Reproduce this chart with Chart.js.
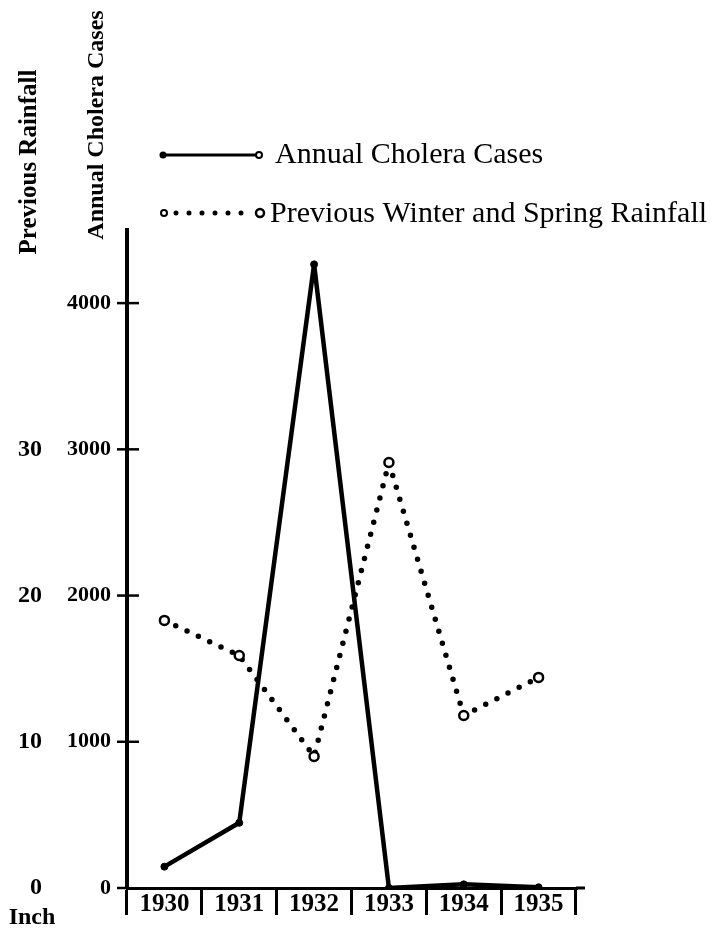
<!DOCTYPE html>
<html>
<head>
<meta charset="utf-8">
<script src="https://cdn.jsdelivr.net/npm/chart.js@4"></script>
<style>
  html, body { margin: 0; padding: 0; background: #fff; }
  #wrap { width: 713px; height: 932px; }
</style>
</head>
<body>
<div id="wrap"><canvas id="c" width="713" height="932"></canvas></div>
<script>
// ---- data ----
const years = ['1930', '1931', '1932', '1933', '1934', '1935'];
const choleraCases = [146, 446, 4265, 0, 25, 5];
const rainfallInches = [18.3, 15.9, 9.0, 29.1, 11.8, 14.4];
const casesTicks = [0, 1000, 2000, 3000, 4000];
const rainfallTicks = [0, 10, 20, 30];
const casesTitle = 'Annual Cholera Cases';
const rainfallTitle = 'Previous Rainfall';
const unitLabel = 'Inch';
const choleraLabel = 'Annual Cholera Cases';
const rainfallLabel = 'Previous Winter and Spring Rainfall';

const INK = '#000';
const SERIF = '"Liberation Serif", "DejaVu Serif", serif';

const decor = {
  id: 'decor',
  afterDraw(chart) {
    const ctx = chart.ctx;
    const y = chart.scales.y;
    const area = chart.chartArea;
    ctx.save();
    ctx.strokeStyle = INK;
    ctx.fillStyle = INK;
    // tick marks crossing the cases axis
    ctx.lineWidth = 2.5;
    y.ticks.forEach(t => {
      const py = y.getPixelForValue(t.value);
      ctx.beginPath();
      ctx.moveTo(area.left - 10, py);
      ctx.lineTo(area.left + (t.value === 0 ? 0 : 12), py);
      ctx.stroke();
    });
    // extend x axis a little past the last box
    ctx.lineWidth = 3;
    ctx.beginPath();
    ctx.moveTo(area.right, area.bottom);
    ctx.lineTo(area.right + 9, area.bottom);
    ctx.stroke();

    // rotated axis titles
    ctx.font = 'bold 25px ' + SERIF;
    ctx.textAlign = 'center';
    ctx.textBaseline = 'middle';
    ctx.save();
    ctx.translate(30, 162);
    ctx.rotate(-Math.PI / 2);
    ctx.fillText(rainfallTitle, 0, 0);
    ctx.restore();
    ctx.font = 'bold 24px ' + SERIF;
    ctx.save();
    ctx.translate(97, 125);
    ctx.rotate(-Math.PI / 2);
    ctx.fillText(casesTitle, 0, 0);
    ctx.restore();

    // unit label
    ctx.font = 'bold 24px ' + SERIF;
    ctx.fillText(unitLabel, 32, 918);

    // legend
    const ds = chart.data.datasets;
    // item 1: solid line
    ctx.setLineDash([]);
    ctx.lineWidth = 3;
    ctx.beginPath();
    ctx.moveTo(163, 155);
    ctx.lineTo(258, 155);
    ctx.stroke();
    ctx.beginPath();
    ctx.arc(163, 155, 3.5, 0, Math.PI * 2);
    ctx.fill();
    ctx.fillStyle = '#fff';
    ctx.lineWidth = 2;
    ctx.beginPath();
    ctx.arc(259, 155, 3, 0, Math.PI * 2);
    ctx.fill();
    ctx.stroke();
    ctx.fillStyle = INK;
    // item 2: dotted line
    ctx.lineCap = 'round';
    ctx.lineWidth = 5;
    ctx.setLineDash([0, 13]);
    ctx.beginPath();
    ctx.moveTo(176, 213);
    ctx.lineTo(250, 213);
    ctx.stroke();
    ctx.setLineDash([]);
    ctx.lineWidth = 2;
    ctx.fillStyle = '#fff';
    ctx.beginPath();
    ctx.arc(164, 213, 3, 0, Math.PI * 2);
    ctx.fill();
    ctx.stroke();
    ctx.lineWidth = 2.5;
    ctx.beginPath();
    ctx.arc(260, 213, 4, 0, Math.PI * 2);
    ctx.fill();
    ctx.stroke();
    ctx.fillStyle = INK;
    ctx.font = '30px ' + SERIF;
    ctx.textAlign = 'left';
    ctx.fillText(ds[0].label, 275, 155);
    ctx.fillText(ds[1].label, 270, 214);
    ctx.restore();
  }
};

new Chart(document.getElementById('c'), {
  type: 'line',
  data: {
    labels: years,
    datasets: [
      {
        label: choleraLabel,
        data: choleraCases,
        yAxisID: 'y',
        borderColor: INK,
        backgroundColor: INK,
        borderWidth: 4.5,
        borderJoinStyle: 'round',
        pointRadius: 3.5,
        pointBackgroundColor: INK,
        pointBorderColor: INK,
        pointBorderWidth: 1,
        tension: 0,
        fill: false
      },
      {
        label: rainfallLabel,
        data: rainfallInches,
        yAxisID: 'y2',
        borderColor: INK,
        backgroundColor: '#fff',
        borderWidth: 5.5,
        borderDash: [0, 12.5],
        borderCapStyle: 'round',
        pointRadius: 4.5,
        pointBackgroundColor: '#fff',
        pointBorderColor: INK,
        pointBorderWidth: 2.5,
        tension: 0,
        fill: false
      }
    ]
  },
  options: {
    responsive: false,
    devicePixelRatio: 1,
    animation: false,
    events: [],
    layout: { padding: { top: 230, right: 137, left: 0, bottom: 0 } },
    plugins: { legend: { display: false }, tooltip: { enabled: false }, title: { display: false } },
    scales: {
      x: {
        type: 'category',
        position: 'bottom',
        offset: true,
        afterFit: s => { s.height = 44; },
        grid: { offset: true, drawOnChartArea: false, drawTicks: true, tickLength: 27, lineWidth: 3, color: INK },
        border: { display: true, width: 3, color: INK },
        ticks: { padding: -25, color: INK, maxRotation: 0, autoSkip: false, font: { family: SERIF, size: 25, weight: 'bold' } }
      },
      y: {
        position: 'left',
        weight: 0,
        min: 0,
        max: 4500,
        afterFit: s => { s.width = 67; },
        afterBuildTicks: s => { s.ticks = casesTicks.map(v => ({ value: v })); },
        grid: { display: false, drawTicks: false },
        border: { display: true, width: 4, color: INK },
        ticks: { padding: 16, color: INK, callback: v => String(v), font: { family: SERIF, size: 22, weight: 'bold' } }
      },
      y2: {
        position: 'left',
        weight: 1,
        min: 0,
        max: 45,
        afterFit: s => { s.width = 60; },
        afterBuildTicks: s => { s.ticks = rainfallTicks.map(v => ({ value: v })); },
        grid: { display: false, drawTicks: false },
        border: { display: false },
        ticks: { padding: 18, color: INK, callback: v => String(v), font: { family: SERIF, size: 24, weight: 'bold' } }
      }
    }
  },
  plugins: [decor]
});
</script>
</body>
</html>
